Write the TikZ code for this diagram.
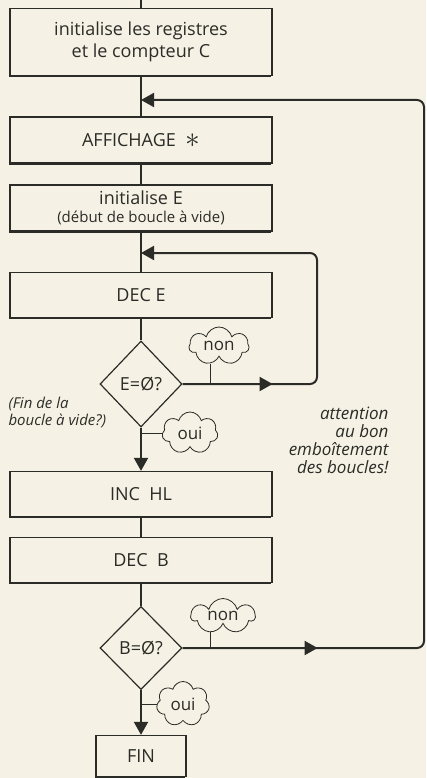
\documentclass[tikz,border=0pt]{standalone}
\usepackage{fontspec}
\setmainfont{Open Sans}
\usetikzlibrary{arrows.meta,shapes.geometric,shapes.symbols,shadows,decorations.markings}
\definecolor{paper}{HTML}{F5F2E5}
\definecolor{ink}{HTML}{2B2B28}
\tikzset{
  boite/.style={draw=ink, fill=paper, line width=1.3pt, minimum width=262pt, minimum height=46pt,
    align=center, text=ink, font=\fontsize{18}{22}\selectfont,
    drop shadow={shadow xshift=-1.2pt, shadow yshift=-1.8pt, fill=ink, opacity=1}},
  test/.style={diamond, draw=ink, fill=paper, line width=1.2pt, minimum width=82pt, minimum height=86pt,
    inner sep=0pt, text=ink, font=\fontsize{18}{22}\selectfont},
  bulle/.style={cloud, cloud puffs=7, cloud ignores aspect, draw=ink, line width=0.8pt, fill=paper,
    inner sep=0pt, text=ink, font=\fontsize{17}{20}\selectfont},
  flux/.style={draw=ink, line width=2pt},
  pointe/.style={-{Triangle[length=13pt,width=14pt]}},
  milieu/.style={postaction=decorate, decoration={markings,
    mark=at position #1 with {\arrow[ink]{Triangle[length=13pt,width=14pt]}}}},
  note/.style={text=ink, font=\itshape\fontsize{15}{17}\selectfont}
}
\begin{document}
\begin{tikzpicture}[x=1pt,y=-1pt]
\useasboundingbox (0,0) rectangle (426,778);
\fill[paper] (0,0) rectangle (426,778);
% blocs
\node[boite, minimum height=67pt] (init) at (141,42) {initialise les registres\\et le compteur C};
\node[boite] (aff) at (141,140) {AFFICHAGE~~\raisebox{-1pt}{\scalebox{1.7}{$\ast$}}};
\node[boite] (initE) at (141,208) {initialise E\\[-4pt]{\fontsize{15}{17}\selectfont(début de boucle à vide)}};
\node[boite, minimum height=45pt] (decE) at (141,295) {DEC E};
\node[test] (tE) at (141,384) {E=Ø?};
\node[boite, minimum height=45pt] (inc) at (141,494) {INC~~HL};
\node[boite, minimum height=45pt] (decB) at (141,560) {DEC~~B};
\node[test, minimum height=83pt] (tB) at (141,648) {B=Ø?};
\node[boite, minimum width=90pt, minimum height=41pt] (fin) at (141,756) {FIN};
% points de passage
\coordinate (haut) at (141,0);
\coordinate (j1) at (141,100);
\coordinate (j2) at (141,253);
\coordinate (i1) at (317,384);
\coordinate (i2) at (317,253);
\coordinate (o1) at (424,648);
\coordinate (o2) at (424,100);
% liaisons
\draw[flux] (haut) -- (init.north);
\draw[flux] (init.south) -- (aff.north);
\draw[flux] (aff.south) -- (initE.north);
\draw[flux] (initE.south) -- (decE.north);
\draw[flux] (decE.south) -- (tE.north);
\draw[flux, pointe] (tE.south) -- (inc.north);
\draw[flux] (inc.south) -- (decB.north);
\draw[flux] (decB.south) -- (tB.north);
\draw[flux, pointe] (tB.south) -- (fin.north);
% boucles
\draw[flux, pointe, rounded corners=7pt, milieu=90pt] (tE.east) -- (i1) -- (i2) -- (j2);
\draw[flux, pointe, rounded corners=7pt, milieu=135pt] (tB.east) -- (o1) -- (o2) -- (j1);
% bulles
\node[bulle, minimum width=60pt, minimum height=38pt] (nonE) at (219,346) {non};
\node[bulle, minimum width=56pt, minimum height=42pt] (ouiE) at (190,433) {oui};
\node[bulle, minimum width=64pt, minimum height=35pt] (nonB) at (223,616) {non};
\node[bulle, minimum width=53pt, minimum height=45pt] (ouiB) at (183,704) {oui};
\draw[ink, line width=0.8pt] (210,364) -- (210,384);
\draw[ink, line width=0.8pt] (ouiE.west) -- (ouiE.west -| tE.south);
\draw[ink, line width=0.8pt] (210,632) -- (210,648);
\draw[ink, line width=0.8pt] (ouiB.west) -- (ouiB.west -| tB.south);
% remarques
\node[note, align=left, anchor=west] (rem1) at (5,412) {(Fin de la\\boucle à vide?)};
\node[note, align=right, anchor=east, font=\itshape\fontsize{17}{18}\selectfont] (rem2) at (392,440) {attention\\au bon\\emboîtement\\des boucles!};
\end{tikzpicture}
\end{document}
